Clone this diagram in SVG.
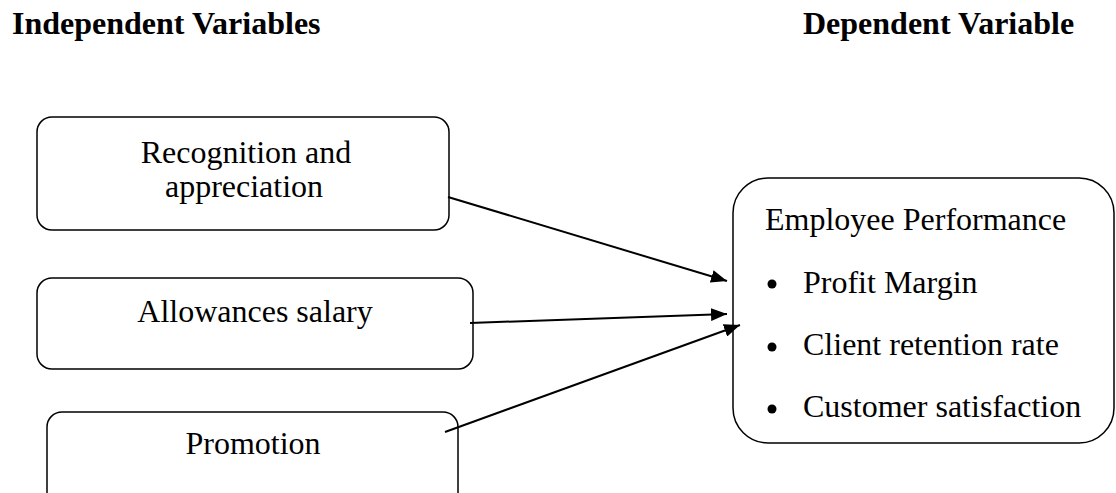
<svg xmlns="http://www.w3.org/2000/svg" width="1116" height="493" viewBox="0 0 1116 493">
<style>
text{font-family:"Liberation Serif","Times New Roman",serif;font-size:32px;fill:#000}
.h{font-weight:bold}
.box{fill:#fff;stroke:#000;stroke-width:1.5}
.c{text-anchor:middle}
.conn line{stroke:#000;stroke-width:2}
</style>
<defs>
<marker id="ah" viewBox="0 0 10 10" refX="10" refY="5" markerWidth="16" markerHeight="13" markerUnits="userSpaceOnUse" orient="auto" preserveAspectRatio="none">
<path d="M0,0 L10,5 L0,10 Z" fill="#000"/>
</marker>
</defs>
<rect width="1116" height="493" fill="#fff"/>
<text class="h" x="12" y="34">Independent Variables</text>
<text class="h" x="803" y="34">Dependent Variable</text>
<g id="n1">
<rect class="box" x="37" y="117" width="412" height="113" rx="15"/>
<text class="c" x="246" y="163">Recognition and</text>
<text class="c" x="244" y="197">appreciation</text>
</g>
<g id="n2">
<rect class="box" x="37" y="278" width="436" height="91" rx="15"/>
<text class="c" x="255" y="322">Allowances salary</text>
</g>
<g id="n3">
<rect class="box" x="47" y="412" width="411" height="100" rx="15"/>
<text class="c" x="253" y="454">Promotion</text>
</g>
<g id="n4">
<rect class="box" x="733" y="178" width="381" height="265" rx="35"/>
<text x="765" y="230">Employee Performance</text>
<circle cx="772" cy="284" r="4.5"/>
<text x="803" y="293">Profit Margin</text>
<circle cx="772" cy="347" r="4.5"/>
<text x="803" y="355">Client retention rate</text>
<circle cx="772" cy="409" r="4.5"/>
<text x="803" y="417">Customer satisfaction</text>
</g>
<g class="conn">
<line x1="448" y1="197" x2="727" y2="281" marker-end="url(#ah)"/>
<line x1="470" y1="323" x2="727" y2="314" marker-end="url(#ah)"/>
<line x1="445" y1="432" x2="740" y2="325" marker-end="url(#ah)"/>
</g>
</svg>
